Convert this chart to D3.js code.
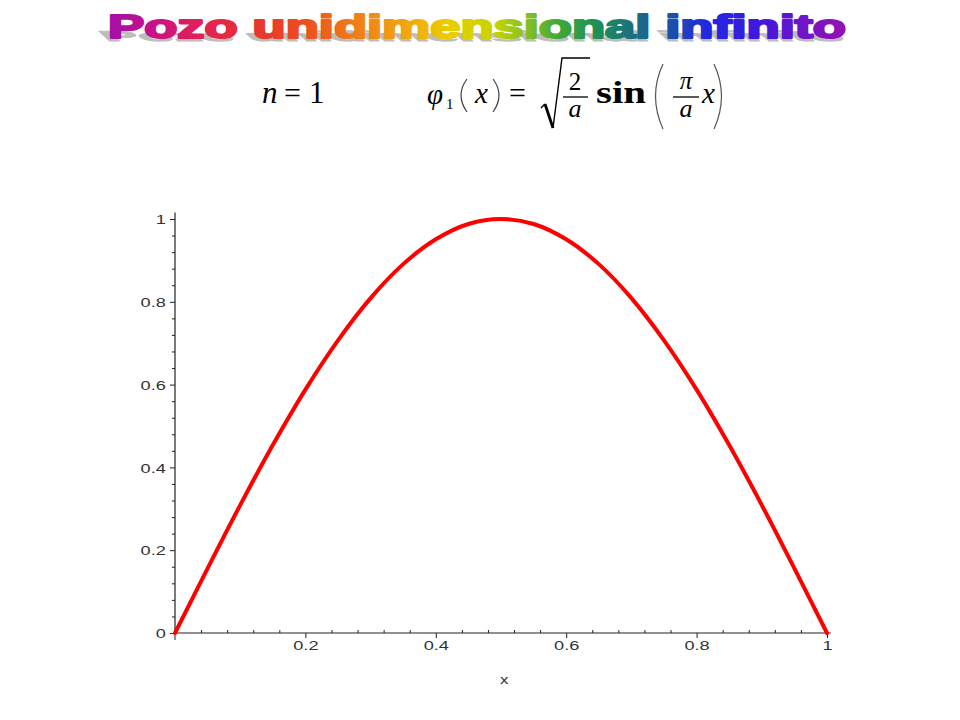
<!DOCTYPE html>
<html>
<head>
<meta charset="utf-8">
<script src="https://cdn.jsdelivr.net/npm/d3@7"></script>
<style>
  html, body { margin: 0; padding: 0; background: #fff; }
  svg { display: block; }
</style>
</head>
<body>
<svg id="chart" width="960" height="720"></svg>
<script>
// ---- data ----
const xValues = [0, 0.05, 0.1, 0.15, 0.2, 0.25, 0.3, 0.35, 0.4, 0.45, 0.5,
                 0.55, 0.6, 0.65, 0.7, 0.75, 0.8, 0.85, 0.9, 0.95, 1];
const yValues = [0, 0.156, 0.309, 0.454, 0.588, 0.707, 0.809, 0.891, 0.951, 0.988, 1,
                 0.988, 0.951, 0.891, 0.809, 0.707, 0.588, 0.454, 0.309, 0.156, 0];
const xMajorTicks = [0.2, 0.4, 0.6, 0.8, 1];
const yMajorTicks = [0, 0.2, 0.4, 0.6, 0.8, 1];
const xMinorTicks = [0.04, 0.08, 0.12, 0.16, 0.24, 0.28, 0.32, 0.36, 0.44, 0.48, 0.52, 0.56,
                     0.64, 0.68, 0.72, 0.76, 0.84, 0.88, 0.92, 0.96];
const yMinorTicks = xMinorTicks;
const titleText = "Pozo unidimensional infinito";
const axisLabelX = "x";

const svg = d3.select("#chart");

// ---- title with rainbow gradient and shadow ----
const defs = svg.append("defs");
const grad = defs.append("linearGradient")
  .attr("id", "rainbow").attr("gradientUnits", "userSpaceOnUse")
  .attr("x1", 107).attr("x2", 848).attr("y1", 0).attr("y2", 0);
const stops = [
  [0.00, "#a010a8"], [0.06, "#c8108a"], [0.12, "#e0205a"], [0.19, "#e83030"],
  [0.27, "#ec5020"], [0.33, "#f07a18"], [0.40, "#f0a410"], [0.46, "#eccc00"],
  [0.52, "#c8d400"], [0.56, "#90c420"], [0.61, "#40a838"], [0.66, "#1e9058"],
  [0.71, "#1a7080"], [0.76, "#1c50a8"], [0.81, "#2028e0"], [0.88, "#4018dc"],
  [0.94, "#7014c8"], [1.00, "#9a10b0"]
];
stops.forEach(s => grad.append("stop").attr("offset", s[0]).attr("stop-color", s[1]));

svg.append("text")
  .attr("transform", "translate(0,41) skewX(48) scale(1,0.42)")
  .attr("x", 107).attr("y", 0)
  .attr("textLength", 740).attr("lengthAdjust", "spacingAndGlyphs")
  .attr("font-family", "Liberation Sans, Arial, sans-serif")
  .attr("font-weight", "bold").attr("font-size", 34)
  .attr("fill", "#bdbdbd").attr("stroke", "#bdbdbd").attr("stroke-width", 2)
  .text(titleText);

svg.append("text")
  .attr("x", 108).attr("y", 38)
  .attr("textLength", 738).attr("lengthAdjust", "spacingAndGlyphs")
  .attr("font-family", "Liberation Sans, Arial, sans-serif")
  .attr("font-weight", "bold").attr("font-size", 34)
  .attr("fill", "url(#rainbow)").attr("stroke", "url(#rainbow)").attr("stroke-width", 2.2)
  .attr("stroke-linejoin", "round")
  .text(titleText);

// ---- formula ----
const f = svg.append("g")
  .attr("font-family", "Liberation Serif, Times New Roman, serif")
  .attr("fill", "#000");
const T = (x, y, s, size, italic, anchor) => f.append("text")
  .attr("x", x).attr("y", y).attr("font-size", size)
  .attr("font-style", italic ? "italic" : "normal")
  .attr("text-anchor", anchor || "start").text(s);
const P = (d, w, c) => f.append("path").attr("d", d).attr("fill", "none")
  .attr("stroke", c || "#000").attr("stroke-width", w);

T(262, 103, "n", 31, true);
T(284, 103, "=", 30, false);
T(309, 103, "1", 31, false);

T(427, 104, "φ", 29, true);
T(446, 109, "1", 15, false).attr("fill", "#000");
P("M467,79 Q455,95 467,112", 1.2, "#444");
T(475, 103, "x", 29, true);
P("M493,79 Q505,95 493,112", 1.2, "#444");
T(509, 103, "=", 30, false);
// square root
P("M541,108 L545,104", 1.4);
P("M545,104 L553,128", 2.8);
P("M553,128 L562,58 L590,58", 1.4);
T(575, 90, "2", 25, false, "middle");
f.append("line").attr("x1", 563).attr("x2", 588).attr("y1", 97).attr("y2", 97)
  .attr("stroke", "#000").attr("stroke-width", 1.3);
T(575, 117, "a", 26, true, "middle");
f.append("text").attr("x", 596).attr("y", 103).attr("font-size", 32)
  .attr("font-weight", "bold")
  .attr("textLength", 50).attr("lengthAdjust", "spacingAndGlyphs").text("sin");
// big parentheses
P("M663,64 Q648,96 663,129", 1.2, "#555");
P("M714,64 Q729,96 714,129", 1.2, "#555");
T(686, 89, "π", 25, true, "middle");
f.append("line").attr("x1", 673).attr("x2", 699).attr("y1", 97).attr("y2", 97)
  .attr("stroke", "#000").attr("stroke-width", 1.3);
T(686, 117, "a", 26, true, "middle");
T(702, 103, "x", 29, true);

// ---- plot ----
const x = d3.scaleLinear().domain([0, 1]).range([175, 827]);
const y = d3.scaleLinear().domain([0, 1]).range([633, 219]);
const axisColor = "#222";
const labelFont = "Liberation Sans, Arial, sans-serif";

// x axis: major ticks below
const gx = svg.append("g").attr("transform", `translate(0,${y(0)})`)
  .call(d3.axisBottom(x).tickValues(xMajorTicks).tickSize(5).tickSizeOuter(0)
        .tickFormat(d3.format("")));
gx.select(".domain").remove();
gx.selectAll("line").attr("stroke", axisColor);
gx.selectAll("text").attr("font-family", labelFont).attr("font-size", 13)
  .attr("fill", "#333").attr("dy", null).attr("y", 17)
  .attr("transform", "scale(1.4,1)");
// x minor ticks above
const gxm = svg.append("g").attr("transform", `translate(0,${y(0)})`)
  .call(d3.axisTop(x).tickValues(xMinorTicks).tickSize(3).tickFormat(""));
gxm.select(".domain").remove();
gxm.selectAll("line").attr("stroke", axisColor);
// x domain line
svg.append("line").attr("x1", x(0)).attr("x2", x(1.006))
  .attr("y1", y(0)).attr("y2", y(0)).attr("stroke", axisColor).attr("stroke-width", 1.2);
// x=0 tick below
svg.append("line").attr("x1", x(0)).attr("x2", x(0))
  .attr("y1", y(0)).attr("y2", y(0) + 7).attr("stroke", axisColor);

// y axis
const gy = svg.append("g").attr("transform", `translate(${x(0)},0)`)
  .call(d3.axisLeft(y).tickValues(yMajorTicks).tickSize(5).tickSizeOuter(0)
        .tickFormat(d3.format("")));
gy.select(".domain").remove();
gy.selectAll("line").attr("stroke", axisColor);
gy.selectAll("text").attr("font-family", labelFont).attr("font-size", 13)
  .attr("fill", "#333").attr("x", -6.5).attr("dy", "0.36em")
  .attr("transform", "scale(1.4,1)");
const gym = svg.append("g").attr("transform", `translate(${x(0)},0)`)
  .call(d3.axisLeft(y).tickValues(yMinorTicks).tickSize(3).tickFormat(""));
gym.select(".domain").remove();
gym.selectAll("line").attr("stroke", axisColor);
svg.append("line").attr("x1", x(0)).attr("x2", x(0))
  .attr("y1", y(0)).attr("y2", y(1.016)).attr("stroke", axisColor).attr("stroke-width", 1.2);

// axis label
svg.append("text").attr("x", x(0.505) / 1.3).attr("y", 684)
  .attr("transform", "scale(1.3,1)")
  .attr("text-anchor", "middle").attr("font-family", labelFont)
  .attr("font-size", 13).attr("fill", "#333").text(axisLabelX);

// curve
const pts = xValues.map((v, i) => [v, yValues[i]]);
svg.append("path").datum(pts)
  .attr("fill", "none").attr("stroke", "#ff0000").attr("stroke-width", 4)
  .attr("stroke-linecap", "round").attr("stroke-linejoin", "round")
  .attr("d", d3.line().x(d => x(d[0])).y(d => y(d[1])).curve(d3.curveCatmullRom));
</script>
</body>
</html>
